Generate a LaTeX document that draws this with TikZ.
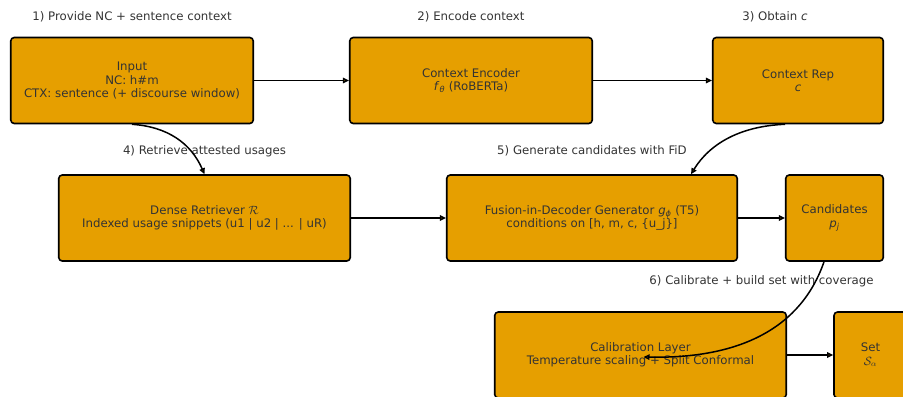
\documentclass[tikz,border=0pt]{standalone}
\usepackage{fontspec}
\setmainfont{DejaVu Sans}
\usetikzlibrary{arrows.meta}
\definecolor{boxfill}{HTML}{E69F00}
\definecolor{txt}{HTML}{333333}
\begin{document}
\begin{tikzpicture}[x=1bp,y=-1bp,
  box/.style={draw=black, line width=1.6bp, rounded corners=3.5bp, fill=boxfill, text=txt,
    align=center, inner sep=0pt, font=\fontsize{11.8}{13.4}\selectfont},
  lbl/.style={text=txt, font=\fontsize{11.8}{13.4}\selectfont, inner sep=0pt},
  conn/.style={line width=1.5bp, -{Triangle[length=6bp,width=5.5bp,fill=boxfill]}},
]
\clip (0,0) rectangle (903,396);
% boxes
\node[box, minimum width=242.5bp, minimum height=86bp] (inp) at (132,80.5)
  {Input\\NC: h\#m\\CTX: sentence (+ discourse window)};
\node[box, minimum width=242.5bp, minimum height=86bp] (enc) at (471,80.5)
  {Context Encoder\\\textit{f}\textsubscript{\textit{θ}} (RoBERTa)};
\node[box, minimum width=170.5bp, minimum height=86bp] (rep) at (798,80.5)
  {Context Rep\\\textit{c}};
\node[box, minimum width=291.5bp, minimum height=86bp] (ret) at (204.5,218)
  {Dense Retriever $\mathcal{R}$\\Indexed usage snippets (u1 | u2 | ... | uR)};
\node[box, minimum width=290.5bp, minimum height=86bp] (fid) at (592,218)
  {Fusion-in-Decoder Generator \textit{g}\textsubscript{\textit{ϕ}} (T5)\\conditions on [h, m, c, \{u\_j\}]};
\node[box, minimum width=97.5bp, minimum height=86bp] (cand) at (834.5,218)
  {Candidates\\\textit{p}\textsubscript{\textit{j}}};
\node[box, minimum width=291.5bp, minimum height=86bp] (cal) at (640.5,355)
  {Calibration Layer\\Temperature scaling + Split Conformal};
\node[box, minimum width=73bp, minimum height=86bp] (set) at (870.5,355)
  {Set\\$\mathcal{S}_\alpha$};
% step labels
\node[lbl] (l1) at (132,17) {1) Provide NC + sentence context};
\node[lbl] (l2) at (471,17) {2) Encode context};
\node[lbl] (l3) at (775,17) {3) Obtain \textit{c}};
\node[lbl] (l4) at (204.5,151) {4) Retrieve attested usages};
\node[lbl] (l5) at (592,151) {5) Generate candidates with FiD};
\node[lbl] (l6) at (761.5,281) {6) Calibrate + build set with coverage};
% connectors
\draw[conn] (inp) -- (enc);
\draw[conn] (enc) -- (rep);
\draw[conn] (ret) -- (fid);
\draw[conn] (fid) -- (cand);
\draw[conn] (cal) -- (set);
\draw[conn] (inp.south) .. controls (167.7,126.7) and (191,143.3) .. (ret.north);
\draw[conn] ([xshift=-13bp]rep.south) .. controls (741.7,126) and (710.3,142.7) .. ([xshift=99bp]fid.north);
\draw[conn] ([xshift=-10.5bp]cand.south) .. controls (801.3,327.3) and (741,359) .. ([shift={(3,2)}]cal.center);
\end{tikzpicture}
\end{document}
